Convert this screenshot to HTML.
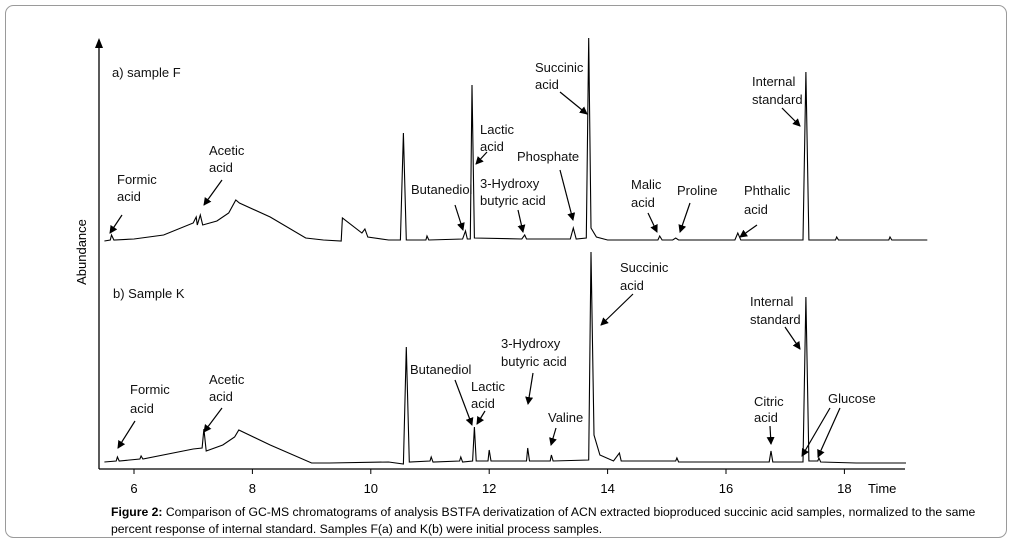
<!DOCTYPE html>
<html><head><meta charset="utf-8"><style>
body{margin:0;background:#fff;}
svg{display:block;font-family:"Liberation Sans",Arial,sans-serif;}
</style></head><body>
<svg width="1013" height="543" viewBox="0 0 1013 543">
<defs><marker id="ah" markerWidth="8" markerHeight="8" refX="7" refY="4" orient="auto" markerUnits="userSpaceOnUse"><path d="M0,0 L8,4 L0,8 z" fill="#000"/></marker></defs>
<rect x="5.5" y="5.5" width="1001" height="532" rx="8" fill="#fff" stroke="#9a9a9a"/>
<g id="axes"></g>
<g id="traces"></g>
<g id="labels" font-size="13" fill="#111"></g>
<text x="86" y="252" font-size="13" transform="rotate(-90 86 252)" text-anchor="middle">Abundance</text>
<text x="868" y="493" font-size="13">Time</text>
<text x="111" y="516" font-size="12.2"><tspan font-weight="bold">Figure 2:</tspan> Comparison of GC-MS chromatograms of analysis BSTFA derivatization of ACN extracted bioproduced succinic acid samples, normalized to the same</text>
<text x="111" y="533" font-size="12.2">percent response of internal standard. Samples F(a) and K(b) were initial process samples.</text>
</svg>
<script>
const xTicks=[6,8,10,12,14,16,18];
const sampleF=[[5.5,2],[5.6,3],[5.62,8],[5.66,3],[6,4],[6.5,8],[7,20],[7.05,26],[7.07,18],[7.12,28],[7.16,18],[7.4,22],[7.6,30],[7.72,43],[7.78,40],[8.3,26],[8.9,5],[9.2,3],[9.5,2],[9.52,25],[9.85,10],[9.9,14],[9.95,6],[10.3,3],[10.5,3],[10.55,110],[10.6,3],[10.93,3],[10.95,7],[10.98,3],[11.55,4],[11.6,12],[11.63,4],[11.68,4],[11.71,158],[11.75,5],[12.55,4],[12.6,8],[12.63,4],[13.37,4],[13.42,15],[13.47,4],[13.64,5],[13.68,205],[13.72,15],[13.81,6],[14,3],[14.85,3],[14.88,7],[14.92,3],[15.1,3],[15.15,5],[15.2,3],[16.15,3],[16.2,10],[16.25,3],[17.3,3],[17.35,171],[17.4,3],[17.85,3],[17.87,6],[17.9,3],[18.75,3],[18.77,6],[18.8,3],[19.4,3]];
const sampleK=[[5.5,3],[5.7,4],[5.72,8],[5.75,4],[6.1,6],[6.12,9],[6.15,6],[7,16],[7.15,17],[7.18,36],[7.22,14],[7.5,20],[7.7,28],[7.77,35],[8.3,20],[9,2],[9.3,2],[10.3,3],[10.55,1],[10.6,118],[10.65,3],[11.0,4],[11.02,8],[11.05,3],[11.5,4],[11.52,8],[11.55,3],[11.72,4],[11.75,38],[11.78,4],[11.98,4],[12,15],[12.03,4],[12.63,4],[12.65,17],[12.68,4],[13.03,4],[13.05,10],[13.08,4],[13.68,5],[13.72,213],[13.77,30],[13.87,10],[14.1,4],[14.2,12],[14.23,4],[15.15,4],[15.17,7],[15.2,3],[16.73,3],[16.76,14],[16.79,3],[17.3,3],[17.35,168],[17.4,4],[17.55,4],[17.57,7],[17.6,3],[18.2,2],[18.85,2],[19.04,2]];
const X=t=>134+(t-6)*59.2;
const yF=v=>243-v, yK=v=>465-v;
const NS='http://www.w3.org/2000/svg';
function mk(tag,attrs,parent){const e=document.createElementNS(NS,tag);for(const k in attrs)e.setAttribute(k,attrs[k]);parent.appendChild(e);return e;}
const ax=document.getElementById('axes');
let l=mk('line',{x1:99,y1:40,x2:99,y2:469,stroke:'#000','stroke-width':1.3},ax);


let ar=mk('path',{d:'M95,48 L99,38 L103,48 z',fill:'#000'},ax);


l=mk('line',{x1:99,y1:469,x2:905,y2:469,stroke:'#000','stroke-width':1.3},ax);


xTicks.forEach(t=>{
 const tk=mk('line',{x1:X(t),y1:469,x2:X(t),y2:474,stroke:'#000'},ax);
 
 
 const tx=mk('text',{x:X(t),y:493,'font-size':13,'text-anchor':'middle'},ax);
 tx.textContent=t;
 
 
});
const tr=document.getElementById('traces');
let p=mk('polyline',{points:sampleF.map(d=>X(d[0]).toFixed(1)+','+yF(d[1]).toFixed(1)).join(' '),fill:'none',stroke:'#000','stroke-width':1.1},tr);


p=mk('polyline',{points:sampleK.map(d=>X(d[0]).toFixed(1)+','+yK(d[1]).toFixed(1)).join(' '),fill:'none',stroke:'#000','stroke-width':1.1},tr);


const lab=document.getElementById('labels');
const texts=[
['a) sample F',112,77],['Formic',117,184],['acid',117,201],['Acetic',209,155],['acid',209,172],['Butanediol',411,194],['Lactic',480,134],['acid',480,151],['3-Hydroxy',480,188],['butyric acid',480,205],['Phosphate',517,161],['Succinic',535,72],['acid',535,89],['Malic',631,189],['acid',631,207],['Proline',677,195],['Phthalic',744,195],['acid',744,214],['Internal',752,86],['standard',752,104],
['b) Sample K',113,298],['Formic',130,394],['acid',130,413],['Acetic',209,384],['acid',209,401],['Butanediol',410,374],['Lactic',471,391],['acid',471,408],['3-Hydroxy',501,348],['butyric acid',501,366],['Valine',548,422],['Succinic',620,272],['acid',620,290],['Citric',754,406],['acid',754,422],['Internal',750,306],['standard',750,324],['Glucose',828,403]];
texts.forEach(t=>{const e=mk('text',{x:t[1],y:t[2]},lab);e.textContent=t[0];
 
 });
const arrows=[[122,215,110,233],[222,180,204,205],[455,205,463,230],[487,152,476,164],[518,210,523,232],[560,170,573,220],[560,92,587,114],[648,213,657,232],[690,203,680,232],[757,225,740,237],[782,108,800,126],
[135,421,118,448],[222,408,204,432],[455,380,472,425],[485,411,477,424],[533,373,528,404],[556,428,551,445],[633,294,601,325],[770,426,771,444],[785,327,800,349],[830,408,802,456],[840,408,818,457]];
arrows.forEach(a=>{const e=mk('line',{x1:a[0],y1:a[1],x2:a[2],y2:a[3],stroke:'#000','stroke-width':1.2,'marker-end':'url(#ah)'},lab);
 
 });
</script>
</body></html>
